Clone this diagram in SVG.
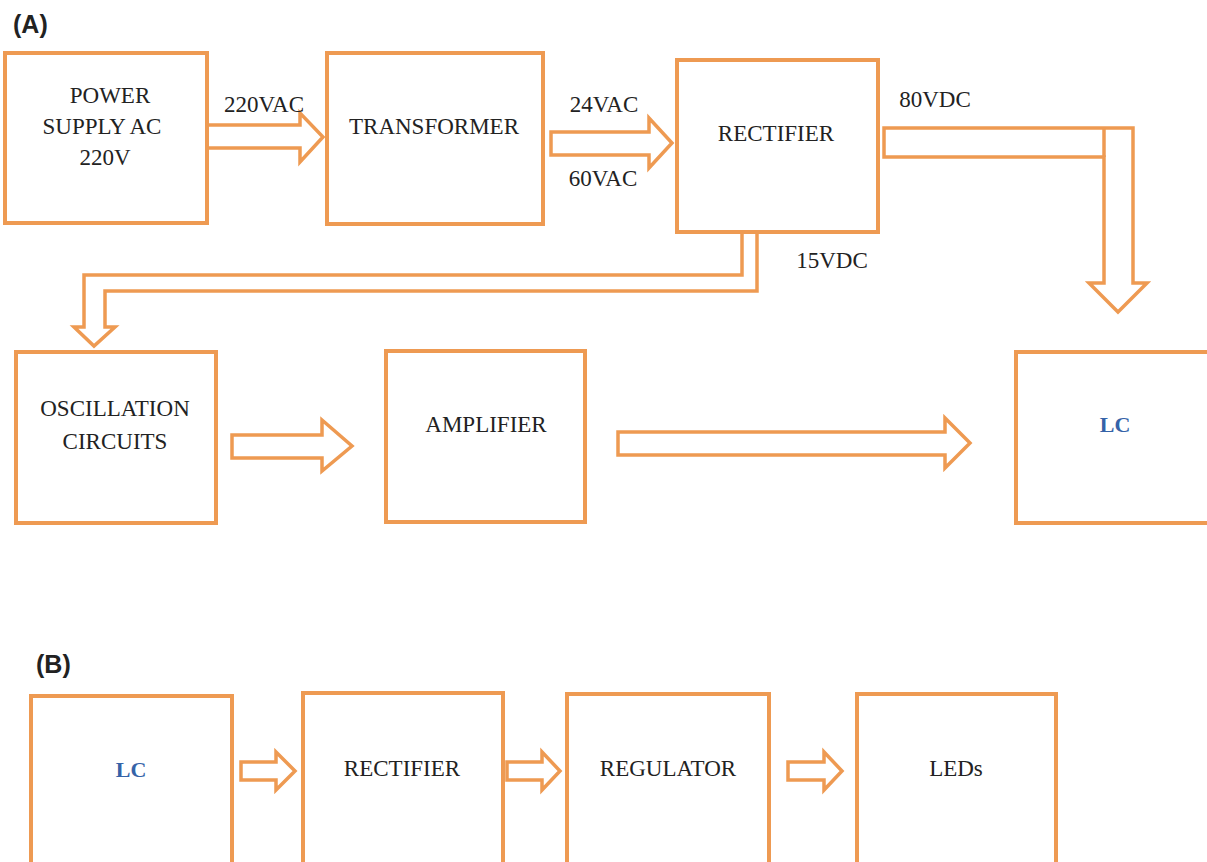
<svg xmlns="http://www.w3.org/2000/svg" width="1207" height="862" viewBox="0 0 1207 862">
<style>
.box{fill:#fff;stroke:#EE9A52;stroke-width:4}
.arr{fill:#fff;stroke:#EE9A52;stroke-width:3.5;stroke-linejoin:miter}
.ln{fill:none;stroke:#EE9A52;stroke-width:3.5}
.t{font-family:'Liberation Serif','Tinos','DejaVu Serif',serif;font-size:23px;fill:#222;text-anchor:middle}
.lc{font-family:'Liberation Serif','Tinos','DejaVu Serif',serif;font-size:22px;font-weight:bold;fill:#3563A8;text-anchor:middle}
.lbl{font-family:'Liberation Sans',Arial,sans-serif;font-size:25px;font-weight:bold;fill:#222}
</style>
<rect width="1207" height="862" fill="#fff"/>
<text class="lbl" x="13" y="33">(A)</text>
<text class="lbl" x="36" y="673">(B)</text>

<g id="connectors">
<polygon class="arr" points="205,125 300,125 300,113 323,137 300,162 300,148 205,148"/>
<polygon class="arr" points="551,132 649,132 649,118 672,143 649,168 649,155 551,155"/>
<polygon class="arr" points="884,128 1133,128 1133,283 1147,283 1118,312 1089,283 1104,283 1104,157 884,157"/>
<line class="ln" x1="1104" y1="128" x2="1104" y2="157"/>
<polyline class="arr" points="742,232 742,275 84,275 84,327 74,327 94,346 115,327 105,327 105,291 757,291 757,232"/>
<polygon class="arr" points="232,435 322,435 322,420 352,446 322,471 322,458 232,458"/>
<polygon class="arr" points="618,432 945,432 945,418 970,443 945,468 945,455 618,455"/>
<polygon class="arr" points="241,762 276,762 276,752 295,771 276,790 276,780 241,780"/>
<polygon class="arr" points="507,762 542,762 542,752 560,771 542,790 542,780 507,780"/>
<polygon class="arr" points="788,762 824,762 824,752 842,771 824,790 824,780 788,780"/>
</g>

<g id="power">
<rect class="box" x="5" y="53" width="202" height="170"/>
<text class="t" x="110" y="103">POWER</text>
<text class="t" x="102" y="134">SUPPLY  AC</text>
<text class="t" x="105" y="165">220V</text>
</g>
<text class="t" x="264" y="112">220VAC</text>

<g id="transformer">
<rect class="box" x="327" y="53" width="216" height="171"/>
<text class="t" x="434" y="134">TRANSFORMER</text>
</g>
<text class="t" x="604" y="112">24VAC</text>
<text class="t" x="603" y="186">60VAC</text>

<g id="rectifier">
<rect class="box" x="677" y="60" width="201" height="172"/>
<text class="t" x="776" y="141">RECTIFIER</text>
</g>
<text class="t" x="935" y="107">80VDC</text>
<text class="t" x="832" y="268">15VDC</text>

<g id="oscillation">
<rect class="box" x="16" y="352" width="200" height="171"/>
<text class="t" x="115" y="416">OSCILLATION</text>
<text class="t" x="115" y="449">CIRCUITS</text>
</g>

<g id="amplifier">
<rect class="box" x="386" y="351" width="199" height="171"/>
<text class="t" x="486" y="432">AMPLIFIER</text>
</g>

<g id="lc-a">
<rect class="box" x="1016" y="352" width="200" height="171"/>
<text class="lc" x="1115" y="432">LC</text>
</g>

<g id="lc-b">
<rect class="box" x="31" y="696" width="201" height="180"/>
<text class="lc" x="131" y="777">LC</text>
</g>

<g id="rectifier-b">
<rect class="box" x="303" y="693" width="200" height="180"/>
<text class="t" x="402" y="776">RECTIFIER</text>
</g>

<g id="regulator">
<rect class="box" x="567" y="694" width="202" height="180"/>
<text class="t" x="668" y="776">REGULATOR</text>
</g>

<g id="leds">
<rect class="box" x="857" y="694" width="199" height="180"/>
<text class="t" x="956" y="776">LEDs</text>
</g>
</svg>
